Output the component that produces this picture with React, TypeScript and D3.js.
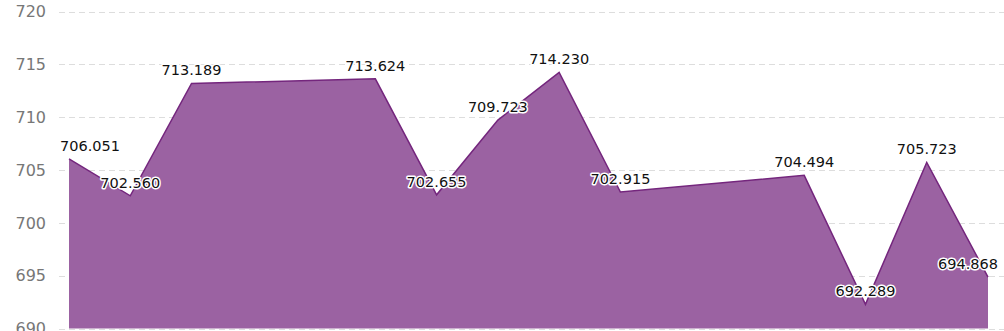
import React, { useEffect, useRef } from "react";
import * as d3 from "d3";

const slots: number[] = [0, 1, 2, 5, 6, 7, 8, 9, 12, 13, 14, 15];
const values: number[] = [706.051, 702.56, 713.189, 713.624, 702.655, 709.723, 714.23, 702.915, 704.494, 692.289, 705.723, 694.868];
const yTicks: number[] = [690, 695, 700, 705, 710, 715, 720];

const W = 1004;
const H = 331;

export default function App() {
  const ref = useRef<SVGSVGElement | null>(null);
  useEffect(() => {
    const svg = d3.select(ref.current);
    svg.selectAll("*").remove();
    const left = 59;
    const right = 998;
    const x = d3.scaleLinear().domain([0, 15]).range([69, 988]);
    const y = d3.scaleLinear().domain([690, 720]).range([328.5, 11.5]);

    const g = svg.append("g");
    g.selectAll("line.grid")
      .data(yTicks)
      .enter()
      .append("line")
      .attr("x1", left)
      .attr("x2", W)
      .attr("y1", (d) => Math.round(y(d)) + 0.5)
      .attr("y2", (d) => Math.round(y(d)) + 0.5)
      .attr("stroke", "#dddddd")
      .attr("stroke-width", 1)
      .attr("stroke-dasharray", "6,4");

    g.selectAll("text.tick")
      .data(yTicks)
      .enter()
      .append("text")
      .attr("x", 46)
      .attr("y", (d) => y(d))
      .attr("dy", "0.36em")
      .attr("text-anchor", "end")
      .attr("font-family", "DejaVu Sans, Verdana, sans-serif")
      .attr("font-size", 16)
      .attr("fill", "#777777")
      .text((d) => String(d));

    const data = slots.map((s, i) => ({ s, v: values[i] }));
    const area = d3
      .area<{ s: number; v: number }>()
      .x((d) => x(d.s))
      .y0(y(690))
      .y1((d) => y(d.v));
    const line = d3
      .line<{ s: number; v: number }>()
      .x((d) => x(d.s))
      .y((d) => y(d.v));

    g.append("path").attr("d", area(data)).attr("fill", "#9b62a2");
    g.append("path")
      .attr("d", line(data))
      .attr("fill", "none")
      .attr("stroke", "#74267d")
      .attr("stroke-width", 1.5);

    const labels = g
      .selectAll("text.lbl")
      .data(data)
      .enter()
      .append("text")
      .attr("x", (d) => x(d.s))
      .attr("y", (d) => y(d.v) - 8)
      .attr("text-anchor", "middle")
      .attr("font-family", "DejaVu Sans, Verdana, sans-serif")
      .attr("font-size", 14.5)
      .attr("fill", "#111111")
      .attr("stroke", "#ffffff")
      .attr("stroke-width", 3)
      .attr("stroke-linejoin", "round")
      .attr("paint-order", "stroke")
      .text((d) => d.v.toFixed(3));

    labels.each(function () {
      const el = this as SVGTextElement;
      const bb = el.getBBox();
      const cx = parseFloat(el.getAttribute("x") || "0");
      let shift = 0;
      if (bb.x < left + 1) shift = left + 1 - bb.x;
      if (bb.x + bb.width > right) shift = right - (bb.x + bb.width);
      el.setAttribute("x", String(cx + shift));
    });
  }, []);

  return (
    <div style={{ position: "absolute", left: 0, top: 0 }}>
      <svg ref={ref} width={W} height={H} style={{ display: "block" }} />
    </div>
  );
}
